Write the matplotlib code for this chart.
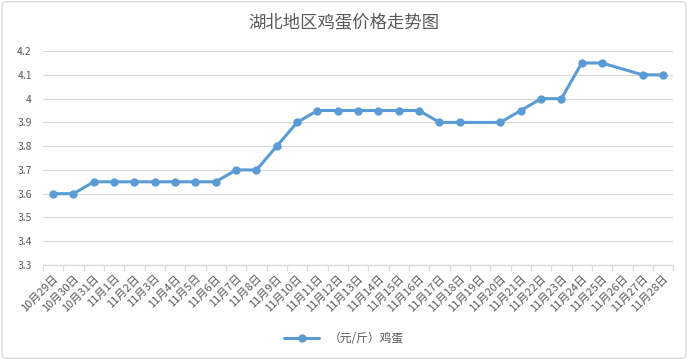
import numpy as np
import matplotlib
matplotlib.use('Agg')
import matplotlib.pyplot as plt
from matplotlib.patches import FancyBboxPatch

plt.rcParams['font.family'] = ['Noto Sans CJK SC', 'DejaVu Sans']

# data (None = no price reported that day)
dates = ['10月29日', '10月30日', '10月31日'] + ['11月%d日' % d for d in range(1, 29)]
prices = [3.6, 3.6, 3.65, 3.65, 3.65, 3.65, 3.65, 3.65, 3.65, 3.7, 3.7,
          3.8, 3.9, 3.95, 3.95, 3.95, 3.95, 3.95, 3.95, 3.9, 3.9, None,
          3.9, 3.95, 4.0, 4.0, 4.15, 4.15, None, 4.1, 4.1]
yticks = [3.3, 3.4, 3.5, 3.6, 3.7, 3.8, 3.9, 4.0, 4.1, 4.2]
ytick_labels = ['3.3', '3.4', '3.5', '3.6', '3.7', '3.8', '3.9', '4', '4.1', '4.2']

text_col = '#595959'
line_col = '#5B9BD5'
grid_col = '#D9D9D9'

fig = plt.figure(figsize=(6.88, 3.6), dpi=100)
ax = fig.add_axes([0.0625, 0.264, 0.916, 0.594])

# Excel-style: skip missing points but keep the line connected
x = np.array([i for i, p in enumerate(prices) if p is not None])
y = np.array([p for p in prices if p is not None])
ax.plot(x, y, color=line_col, lw=2.2, marker='o', ms=5, label='（元/斤）鸡蛋',
        solid_capstyle='round', zorder=3)

ax.set_xlim(-0.5, len(dates) - 0.5)
ax.set_ylim(3.3, 4.2)
ax.set_yticks(yticks)
ax.set_yticklabels(ytick_labels)
ax.grid(axis='y', color=grid_col, lw=0.9)
ax.set_axisbelow(True)

ax.set_xticks(range(len(dates)))
ax.set_xticklabels(dates, rotation=45, ha='right', rotation_mode='anchor')
ax.set_xticks(np.arange(-0.5, len(dates)), minor=True)
ax.tick_params(axis='x', which='major', length=0, pad=6, labelsize=8, colors=text_col)
ax.tick_params(axis='x', which='minor', length=4, color=grid_col, width=0.9)
ax.tick_params(axis='y', length=0, labelsize=7.5, colors=text_col, pad=8)

for s in ['top', 'right', 'left']:
    ax.spines[s].set_visible(False)
ax.spines['bottom'].set_color(grid_col)
ax.spines['bottom'].set_linewidth(0.9)

fig.text(0.5, 0.935, '湖北地区鸡蛋价格走势图', ha='center', va='center',
         fontsize=12.5, color=text_col)

fig.legend(loc='center', bbox_to_anchor=(0.5, 0.06), frameon=False,
           fontsize=8.5, labelcolor=text_col, handlelength=3)

# chart border
fig.patches.append(FancyBboxPatch((0.003, 0.005), 0.994, 0.99,
                                  boxstyle='round,pad=0,rounding_size=0.008',
                                  transform=fig.transFigure, fill=False,
                                  edgecolor='#D9D9D9', lw=1))

fig.savefig('out.png', dpi=100)
